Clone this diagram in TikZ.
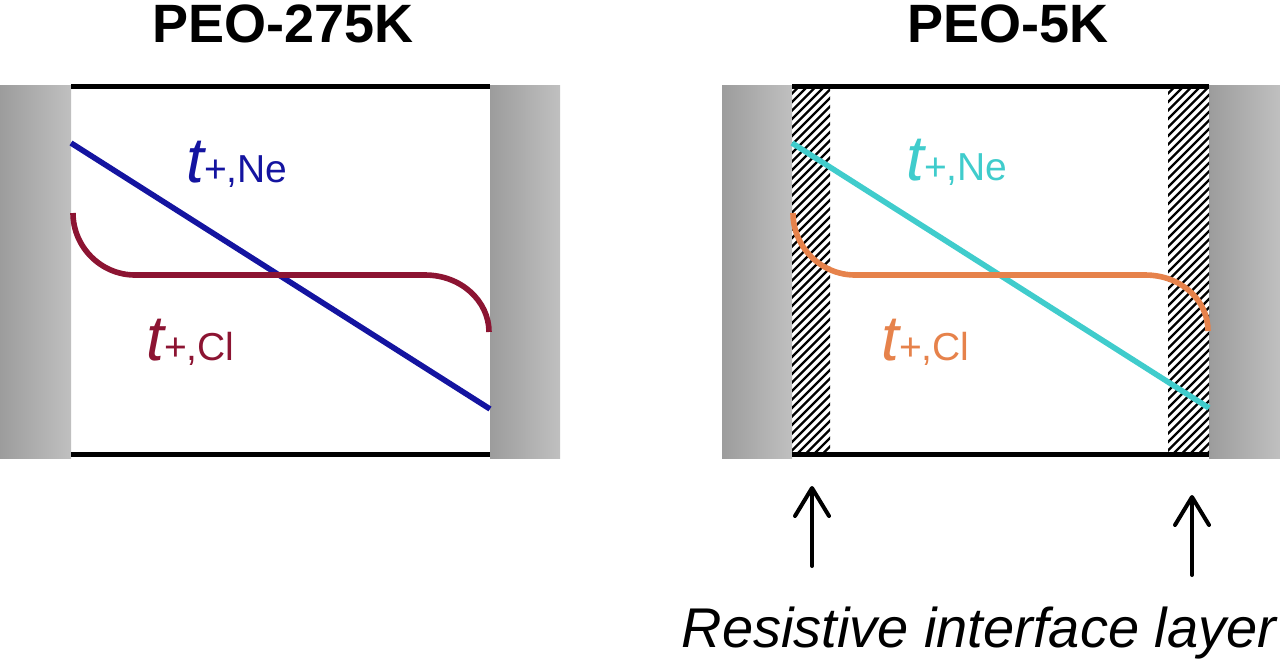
\documentclass[tikz,border=0pt]{standalone}
\usepackage{fontspec}
\setmainfont{Liberation Sans}
\usetikzlibrary{arrows.meta}
\definecolor{neblue}{RGB}{20,20,160}
\definecolor{cldark}{RGB}{140,20,50}
\definecolor{necyan}{RGB}{64,204,204}
\definecolor{clorange}{RGB}{230,130,75}
\definecolor{elecdark}{RGB}{156,156,156}
\definecolor{eleclight}{RGB}{192,192,192}
\newcommand\lblT{\fontsize{32pt}{32pt}\selectfont\itshape}
\newcommand\lblS{\fontsize{19.5pt}{20pt}\selectfont\upshape}
\begin{document}
\begin{tikzpicture}[x=0.5pt,y=-0.5pt,
  electrode/.style={left color=elecdark, right color=eleclight, draw=none},
  wall/.style={black, line width=2.5pt},
  curve/.style={line width=2.8pt},
  hatchline/.style={black, line width=1.15pt},
  title/.style={inner sep=0pt, anchor=base, font=\fontsize{27pt}{30pt}\selectfont\bfseries},
  lab/.style={inner sep=0pt, anchor=base west},
  callout/.style={black, line width=2pt, line cap=round, -{Straight Barb[length=14pt, width=17pt, line width=2pt, round]}}
]
\useasboundingbox (0,0) rectangle (1280,660);

% ---------- Left panel: PEO-275K ----------
\shade[electrode] (0,85) rectangle (71,458);
\shade[electrode] (490,85) rectangle (560,458);
\draw[wall] (71,86) -- (490,86);
\draw[wall] (71,454) -- (490,454);
\draw[curve, neblue] (71,143) -- (490,409);
\draw[curve, cldark] (73,213) .. controls (73,247) and (101,275) .. (135,275)
  -- (425,275) .. controls (461,275) and (489,301) .. (489,332);
\node[title] (t1) at (283,42) {PEO-275K};
\node[lab, text=neblue] (ne1) at (186,182) {\lblT t\lblS +,Ne};
\node[lab, text=cldark] (cl1) at (146,360) {\lblT t\lblS +,Cl};

% ---------- Right panel: PEO-5K ----------
\shade[electrode] (722,85) rectangle (792,458);
\shade[electrode] (1209,85) rectangle (1280,458);
\begin{scope}
  \clip (792,89) rectangle (830,454);
  \foreach \k in {0,...,50} \draw[hatchline] (788,89+8.5*\k) -- ++(50,-50);
\end{scope}
\begin{scope}
  \clip (1168,89) rectangle (1209,454);
  \foreach \k in {0,...,50} \draw[hatchline] (1164,89+8.5*\k) -- ++(50,-50);
\end{scope}
\draw[wall] (792,86) -- (1209,86);
\draw[wall] (792,454) -- (1209,454);
\draw[curve, necyan] (792,143) -- (1209,408);
\draw[curve, clorange] (793,213) .. controls (793,247) and (821,275) .. (855,275)
  -- (1145,275) .. controls (1181,275) and (1208,300) .. (1208,331);
\node[title] (t2) at (1008,42) {PEO-5K};
\node[lab, text=necyan] (ne2) at (906,180) {\lblT t\lblS +,Ne};
\node[lab, text=clorange] (cl2) at (881,360) {\lblT t\lblS +,Cl};

% ---------- Callout ----------
\coordinate (a1s) at (812,566);
\coordinate (a1e) at (812,486);
\coordinate (a2s) at (1192,575);
\coordinate (a2e) at (1192,495);
\draw[callout] (a1s) -- (a1e);
\draw[callout] (a2s) -- (a2e);
\node[inner sep=0pt, anchor=base, font=\fontsize{28pt}{30pt}\selectfont\itshape] (ril) at (979,647) {Resistive interface layer};
\end{tikzpicture}
\end{document}
